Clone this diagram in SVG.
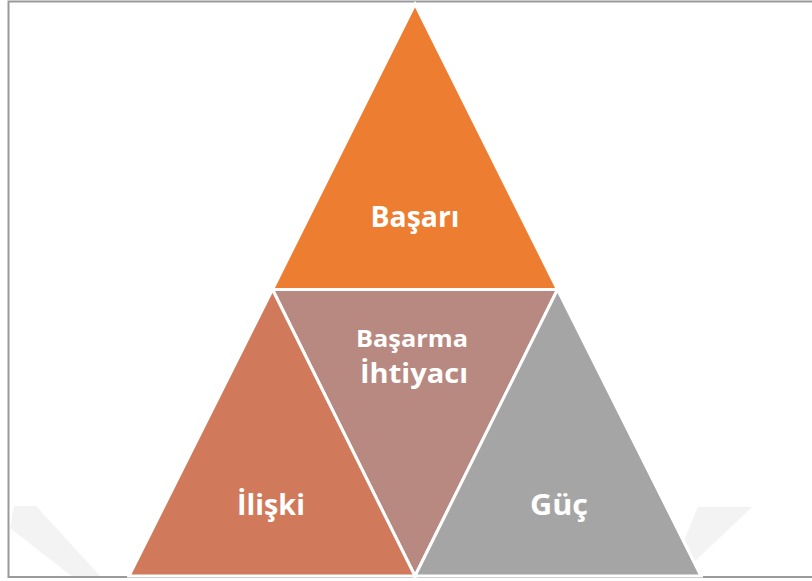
<svg xmlns="http://www.w3.org/2000/svg" width="812" height="581" viewBox="0 0 812 581">
  <style>
    .tri { stroke: #ffffff; stroke-width: 3; stroke-linejoin: miter; }
    .lbl { font-family: "Open Sans", "Liberation Sans", Arial, sans-serif; font-weight: bold; fill: #ffffff; text-anchor: middle; }
    .wm { fill: #f3f3f3; }
  </style>
  <rect x="0" y="0" width="812" height="581" fill="#ffffff"/>
  <polygon class="wm" points="14,506 36,506 102,578 74,578 10,528"/>
  <polygon class="wm" points="698,507 752,507 694,562 680,550"/>
  <rect x="8.5" y="1.5" width="820" height="575.5" fill="none" stroke="#9a9a9a" stroke-width="2"/>
  <g id="basari">
    <polygon class="tri" points="415,4 557.5,289.5 272.5,289.5" fill="#ED7D31"/>
    <text class="lbl" x="415" y="227" font-size="29" textLength="89" lengthAdjust="spacingAndGlyphs">Başarı</text>
  </g>
  <g id="basarma-ihtiyaci">
    <polygon class="tri" points="272.5,289.5 557.5,289.5 415,576" fill="#B88980"/>
    <text class="lbl" x="412" y="347" font-size="23" textLength="112" lengthAdjust="spacingAndGlyphs">Başarma</text>
    <text class="lbl" x="414" y="383" font-size="26" textLength="108" lengthAdjust="spacingAndGlyphs">İhtiyacı</text>
  </g>
  <g id="iliski">
    <polygon class="tri" points="272.5,289.5 415,576 129,576" fill="#D0795B"/>
    <text class="lbl" x="271" y="515" font-size="29" textLength="68" lengthAdjust="spacingAndGlyphs">İlişki</text>
  </g>
  <g id="guc">
    <polygon class="tri" points="557.5,289.5 701,576 415,576" fill="#A5A5A5"/>
    <text class="lbl" x="559" y="515" font-size="29" textLength="58" lengthAdjust="spacingAndGlyphs">Güç</text>
  </g>
  <g id="connectors"></g>
</svg>
